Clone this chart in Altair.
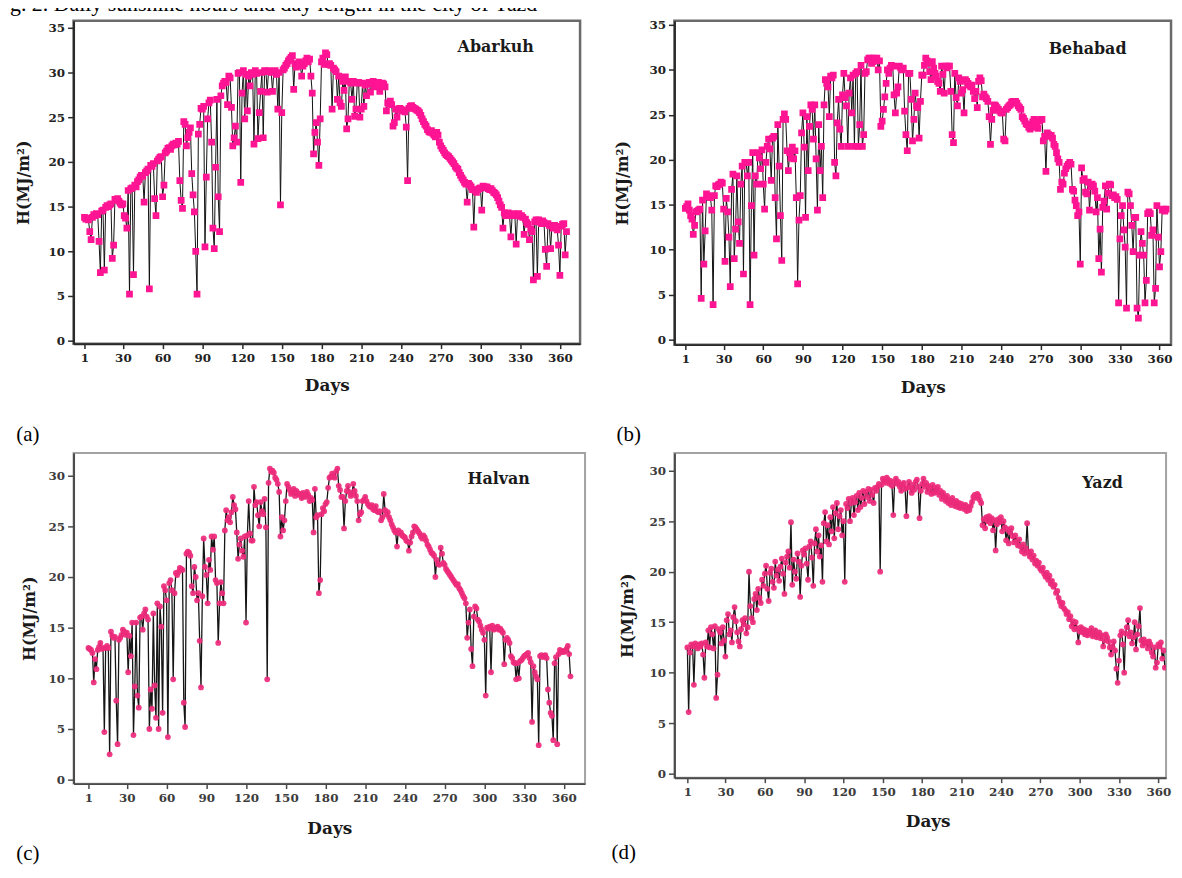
import altair as alt
import pandas as pd

DAYS = list(range(1, 366))

ABARKUH = [
    13.8, 13.6, 13.7, 13.5, 12.2, 11.3, 13.8, 14.1, 14.0, 14.2,
    14.1, 11.1, 7.6, 14.5, 14.6, 7.9, 14.9, 15.1, 15.0, 15.2,
    15.3, 9.2, 10.7, 15.8, 15.7, 15.9, 15.6, 15.4, 15.2, 15.3,
    14.0, 13.7, 12.6, 16.8, 5.2, 17.0, 17.1, 7.4, 17.4, 17.2,
    17.8, 18.0, 18.3, 18.5, 18.4, 15.5, 18.8, 19.0, 19.2, 5.8,
    19.6, 19.5, 19.8, 15.9, 14.0, 20.1, 20.3, 20.5, 20.6, 16.1,
    17.4, 21.0, 21.2, 21.5, 21.6, 21.4, 21.8, 22.0, 21.9, 22.1,
    22.0, 22.3, 17.9, 15.7, 14.8, 24.5, 24.2, 21.8, 22.7, 23.3,
    23.8, 18.7, 16.3, 14.4, 10.0, 5.2, 23.1, 24.2, 26.0, 25.9,
    26.2, 10.5, 18.3, 24.8, 26.6, 26.9, 22.2, 12.6, 10.3, 19.4,
    27.0, 16.1, 12.2, 27.4, 28.5, 28.8, 29.0, 28.9, 26.4, 29.6,
    29.4, 26.1, 21.8, 22.7, 24.0, 22.2, 29.9, 30.0, 17.7, 27.7,
    30.2, 24.8, 29.8, 25.7, 29.6, 28.5, 30.0, 29.8, 22.0, 30.2,
    29.9, 22.6, 25.5, 27.9, 30.0, 22.7, 30.2, 30.1, 27.8, 30.2,
    30.1, 30.0, 27.9, 30.1, 30.2, 29.8, 25.9, 30.0, 15.2, 25.5,
    30.3, 30.5, 30.8, 31.0, 31.3, 31.5, 31.7, 31.9, 28.1, 31.0,
    30.6, 30.9, 31.2, 30.8, 29.6, 30.7, 31.0, 31.3, 31.6, 31.2,
    31.5, 29.6, 27.7, 20.9, 23.3, 24.4, 22.2, 19.6, 24.8, 31.2,
    31.6, 30.9, 32.2, 32.0, 30.9, 31.0, 30.8, 25.9, 30.5, 30.3,
    30.1, 27.0, 29.6, 26.6, 26.2, 29.0, 28.0, 29.5, 23.7, 24.8,
    29.0, 28.8, 27.0, 29.0, 25.1, 25.9, 28.8, 28.9, 25.0, 25.9,
    28.8, 26.2, 28.6, 27.4, 28.7, 28.9, 27.8, 28.8, 29.0, 28.4,
    28.6, 28.8, 28.9, 27.9, 28.6, 28.8, 28.7, 28.4, 25.7, 26.6,
    26.5, 26.8, 26.4, 24.0, 24.4, 25.9, 25.0, 25.8, 26.0, 25.9,
    25.7, 25.8, 25.6, 23.9, 17.9, 26.0, 26.2, 26.3, 26.1, 26.0,
    25.9, 25.8, 25.7, 25.5, 25.2, 24.8, 24.5, 24.2, 24.0, 23.6,
    23.4, 23.3, 23.5, 23.2, 23.0, 22.8, 23.3, 23.0, 22.2, 21.8,
    21.5, 21.3, 21.0, 20.8, 20.7, 20.6, 20.4, 20.2, 20.0, 19.8,
    19.5, 19.3, 19.2, 18.8, 18.5, 18.2, 18.0, 17.7, 17.5, 15.5,
    17.6, 17.4, 17.2, 16.9, 12.7, 16.8, 16.6, 16.9, 17.0, 17.1,
    14.6, 17.3, 17.2, 17.1, 17.2, 17.0, 16.9, 17.0, 16.8, 16.6,
    16.5, 16.3, 16.0, 15.6, 15.2, 14.9, 12.6, 14.3, 14.0, 14.2,
    14.3, 14.0, 11.6, 14.1, 14.2, 14.0, 10.8, 14.1, 14.2, 13.9,
    14.0, 13.8, 11.9, 13.6, 13.2, 13.0, 11.3, 12.5, 12.2, 6.8,
    13.3, 13.5, 7.2, 13.5, 13.3, 13.1, 13.4, 13.2, 10.2, 8.3,
    13.1, 12.9, 10.3, 12.8, 12.6, 12.9, 12.7, 12.4, 10.7, 7.3,
    12.8, 13.0, 13.1, 9.6, 12.2,
]

BEHABAD = [
    14.6, 14.8, 15.1, 14.4, 13.8, 13.4, 11.7, 12.7, 14.2, 14.3,
    14.4, 14.5, 4.6, 15.5, 8.4, 12.1, 16.2, 16.0, 15.9, 15.8,
    14.4, 3.9, 16.0, 17.1, 17.0, 17.2, 17.3, 17.5, 17.4, 14.5,
    8.7, 15.7, 14.2, 11.4, 5.9, 16.7, 18.4, 9.0, 12.3, 18.2,
    13.1, 10.7, 17.3, 19.3, 7.3, 19.7, 19.7, 18.2, 19.7, 3.9,
    14.9, 20.8, 9.4, 18.2, 17.3, 20.8, 20.2, 19.0, 21.1, 17.3,
    14.5, 19.7, 21.5, 22.3, 21.2, 17.7, 22.4, 22.6, 15.8, 11.2,
    23.9, 19.3, 13.8, 8.8, 24.5, 25.1, 24.5, 21.0, 18.8, 20.8,
    20.2, 21.4, 20.1, 21.0, 15.8, 6.2, 13.3, 16.0, 23.0, 25.2,
    21.4, 13.6, 24.8, 18.8, 23.7, 26.1, 25.6, 22.3, 26.1, 20.1,
    14.4, 23.9, 18.8, 21.5, 15.8, 26.1, 28.9, 28.5, 28.1, 24.8,
    29.3, 29.1, 29.4, 19.7, 18.2, 24.1, 26.7, 23.4, 21.5, 27.2,
    29.6, 26.9, 26.0, 21.5, 27.4, 29.1, 25.2, 29.4, 21.5, 29.6,
    29.8, 21.5, 23.9, 30.5, 21.5, 22.8, 29.6, 29.8, 31.1, 31.3,
    31.3, 30.7, 30.9, 31.3, 31.1, 31.3, 30.0, 31.0, 23.7, 24.3,
    25.6, 27.0, 28.5, 30.0, 29.6, 30.2, 30.5, 30.4, 27.2, 25.2,
    27.4, 28.1, 30.4, 30.2, 30.0, 30.2, 25.4, 22.8, 21.0, 29.6,
    29.6, 26.7, 22.1, 24.5, 27.4, 26.0, 25.8, 22.4, 26.5, 29.4,
    29.4, 30.5, 31.3, 31.0, 30.7, 29.8, 28.9, 30.9, 30.2, 29.6,
    29.3, 28.7, 28.5, 27.6, 30.4, 29.5, 27.4, 30.4, 30.2, 30.4,
    30.4, 27.6, 22.8, 21.9, 29.6, 26.9, 26.0, 29.1, 28.7, 27.4,
    27.8, 25.2, 28.9, 28.7, 28.5, 28.3, 28.1, 28.3, 27.6, 26.8,
    27.6, 25.8, 28.7, 29.1, 28.8, 27.0, 27.3, 27.0, 26.8, 26.5,
    24.8, 21.7, 24.5, 25.5, 26.1, 26.0, 25.8, 25.6, 25.4, 25.2,
    25.2, 22.3, 22.1, 25.6, 25.8, 26.0, 26.1, 26.4, 26.5, 26.3,
    26.5, 26.3, 26.0, 25.8, 25.6, 24.8, 24.6, 24.3, 24.0, 23.9,
    23.6, 23.4, 23.6, 24.2, 24.5, 24.1, 23.7, 23.5, 24.3, 24.5,
    24.5, 22.1, 22.6, 18.7, 23.0, 22.8, 22.6, 22.7, 22.4, 21.7,
    21.5, 20.8, 20.1, 19.7, 16.7, 17.5, 17.3, 18.5, 19.0, 19.3,
    19.5, 19.7, 19.5, 16.7, 16.5, 15.5, 14.9, 13.8, 14.2, 8.4,
    19.1, 17.7, 17.9, 16.4, 16.2, 17.5, 14.4, 17.0, 17.3, 17.1,
    16.5, 14.2, 15.8, 9.0, 12.3, 7.5, 14.7, 15.4, 17.1, 14.5,
    16.3, 17.3, 17.2, 16.0, 16.1, 15.8, 15.9, 15.6, 4.1, 11.2,
    13.8, 14.9, 12.2, 10.3, 3.5, 16.4, 16.2, 14.9, 12.7, 9.8,
    13.6, 13.6, 3.5, 2.4, 9.4, 12.0, 10.7, 9.4, 4.1, 6.6,
    14.0, 14.2, 14.0, 11.6, 12.2, 4.1, 5.7, 14.9, 11.4, 8.1,
    9.8, 14.4, 14.5, 14.3, 14.5,
]

HALVAN = [
    13.0, 12.9, 12.8, 12.5, 9.6, 11.9, 10.9, 12.8, 13.1, 13.5,
    12.9, 13.0, 4.7, 13.0, 13.2, 13.0, 2.5, 14.6, 14.2, 14.0,
    14.1, 7.8, 3.5, 13.8, 14.0, 14.3, 14.8, 14.6, 14.3, 14.5,
    10.6, 14.2, 12.2, 15.5, 4.4, 9.2, 15.5, 8.3, 7.1, 16.0,
    16.1, 14.8, 16.4, 16.8, 16.1, 15.8, 5.0, 8.9, 7.0, 16.4,
    9.3, 6.1, 17.4, 5.0, 17.1, 15.1, 6.6, 19.1, 18.7, 17.7,
    4.2, 19.4, 19.7, 18.7, 9.9, 18.4, 20.4, 20.2, 20.5, 20.9,
    20.8, 20.7, 7.6, 5.2, 22.3, 22.5, 22.4, 22.1, 19.1, 18.4,
    21.0, 20.0, 17.7, 18.4, 13.7, 9.1, 18.1, 23.8, 21.0, 20.2,
    17.4, 21.7, 20.7, 24.0, 22.7, 24.0, 19.7, 19.4, 13.5, 17.4,
    19.5, 18.4, 17.4, 24.6, 26.6, 25.6, 25.9, 25.4, 26.4, 27.9,
    27.1, 26.7, 24.4, 21.8, 23.2, 23.8, 22.6, 22.0, 24.0, 15.5,
    24.1, 27.5, 24.3, 23.6, 23.6, 28.9, 27.1, 27.4, 26.1, 25.0,
    27.4, 26.5, 26.2, 27.7, 24.9, 9.9, 29.3, 30.7, 30.4, 30.5,
    30.3, 29.8, 29.6, 29.2, 28.4, 24.0, 25.9, 24.6, 25.6, 27.5,
    29.2, 28.9, 28.6, 28.2, 28.4, 28.7, 28.0, 28.5, 28.3, 28.1,
    28.2, 27.8, 28.3, 28.0, 27.9, 28.4, 28.1, 27.5, 27.8, 27.6,
    24.4, 28.7, 25.9, 26.1, 18.4, 19.7, 26.2, 26.8, 26.5, 27.2,
    27.4, 28.8, 29.8, 29.9, 30.2, 29.9, 29.8, 30.4, 30.7, 29.0,
    28.6, 27.9, 27.9, 24.8, 27.5, 28.5, 29.0, 28.4, 28.0, 28.2,
    29.2, 28.5, 28.0, 27.5, 25.6, 26.2, 26.4, 27.5, 27.6, 27.9,
    27.5, 27.2, 27.0, 26.9, 27.1, 26.7, 26.6, 27.0, 26.5, 26.4,
    26.5, 25.6, 25.9, 28.2, 26.6, 26.2, 26.4, 25.9, 25.6, 25.2,
    24.9, 24.6, 24.4, 23.0, 24.6, 24.3, 24.4, 24.1, 24.0, 23.9,
    23.6, 23.5, 22.6, 23.4, 24.0, 24.4, 25.0, 24.9, 24.7, 24.5,
    24.3, 24.0, 23.8, 24.1, 23.9, 23.6, 23.2, 23.0, 22.7, 22.4,
    22.3, 22.1, 20.0, 21.7, 21.3, 21.2, 22.9, 22.3, 21.4, 21.2,
    20.8, 20.6, 20.4, 20.2, 20.0, 19.8, 19.6, 19.4, 19.2, 19.3,
    18.9, 18.7, 18.4, 18.1, 17.9, 17.4, 14.0, 15.5, 16.8, 12.9,
    11.2, 16.1, 17.1, 16.9, 15.8, 15.6, 15.2, 14.8, 14.5, 13.8,
    8.3, 15.0, 14.9, 15.1, 10.6, 15.2, 14.8, 14.9, 15.0, 15.1,
    14.8, 14.9, 14.7, 14.5, 11.4, 13.8, 14.0, 13.8, 13.5, 12.2,
    12.0, 11.6, 11.5, 9.9, 11.5, 10.0, 11.7, 11.8, 12.0, 12.2,
    12.3, 12.4, 12.5, 12.0, 11.6, 5.7, 11.2, 10.6, 10.2, 9.9,
    3.4, 12.2, 12.3, 12.1, 12.2, 12.3, 12.0, 8.9, 7.6, 6.6,
    6.3, 3.9, 11.5, 12.1, 3.5, 12.4, 12.8, 12.6, 12.7, 12.6,
    12.7, 12.9, 13.2, 12.4, 10.2,
]

YAZD = [
    12.5, 6.1, 12.0, 12.8, 12.6, 8.8, 12.9, 12.7, 12.4, 12.8,
    12.6, 12.9, 11.8, 9.5, 13.0, 12.6, 14.2, 12.5, 14.5, 13.8,
    12.4, 14.6, 7.5, 9.8, 14.3, 14.0, 12.9, 14.5, 13.2, 11.6,
    15.2, 15.8, 13.8, 14.2, 13.0, 15.5, 16.5, 15.1, 14.0, 13.1,
    12.6, 14.3, 15.2, 14.8, 15.4, 13.9, 14.5, 20.0, 16.6, 15.4,
    15.0, 17.3, 17.8, 16.2, 18.3, 17.4, 16.9, 19.2, 18.6, 19.8,
    20.6, 18.3, 17.1, 19.9, 20.3, 19.0, 18.4, 21.0, 19.6, 20.2,
    19.1, 20.5, 21.3, 19.8, 17.8, 20.9, 21.5, 22.0, 20.4, 24.9,
    18.7, 21.2, 20.0, 19.3, 21.8, 21.0, 17.5, 20.6, 22.1, 21.7,
    22.3, 20.8, 19.2, 22.5, 23.0, 21.4, 18.6, 22.8, 24.2, 22.0,
    23.6, 21.5, 22.6, 19.0, 24.8, 25.9, 23.0, 24.6, 22.7, 25.4,
    24.0, 26.4, 23.3, 25.8, 26.8, 24.2, 25.5, 26.1, 23.6, 25.0,
    19.0, 26.7, 26.3, 27.2, 25.0, 26.8, 27.3, 25.6, 26.9, 27.5,
    26.1, 27.8, 26.4, 27.3, 28.0, 26.7, 27.9, 27.4, 28.2, 27.0,
    28.1, 27.6, 26.8, 28.3, 28.0, 28.4, 28.7, 20.0, 28.6, 29.2,
    29.0, 28.8, 29.3, 29.1, 28.7, 29.0, 28.5, 25.6, 28.9, 29.2,
    28.7, 28.9, 28.4, 28.0, 28.6, 28.8, 28.2, 25.5, 28.4, 28.9,
    28.3, 27.8, 28.6, 28.1, 28.9, 29.1, 28.4, 25.3, 28.0, 28.7,
    29.2, 28.4, 28.8, 27.9, 28.5, 28.2, 27.7, 28.6, 27.8, 28.3,
    27.9, 28.4, 27.6, 28.0, 27.2, 27.8, 27.4, 27.0, 27.5, 26.8,
    27.1, 26.6, 27.3, 26.9, 26.5, 27.0, 26.4, 26.8, 26.3, 26.7,
    26.5, 26.2, 26.6, 26.0, 26.4, 26.1, 26.5, 26.9, 27.4, 27.6,
    27.3, 27.7, 27.5, 27.1, 26.8, 24.6, 25.2, 24.3, 25.4, 25.0,
    25.5, 24.8, 25.3, 24.1, 25.1, 22.1, 24.7, 25.2, 24.9, 25.4,
    24.0, 25.0, 24.4, 23.1, 24.2, 22.8, 23.9, 24.3, 23.5, 22.9,
    23.6, 23.0, 22.6, 23.2, 22.5, 22.0, 22.7, 21.8, 22.3, 24.8,
    21.9, 21.5, 22.0, 21.2, 21.6, 20.8, 21.1, 20.6, 20.9, 20.3,
    20.1, 20.4, 19.8, 19.5, 19.9, 19.2, 19.6, 18.8, 19.1, 18.5,
    18.7, 17.9, 18.1, 17.4, 17.0, 16.6, 16.9, 16.4, 16.2, 15.8,
    16.0, 15.3, 15.6, 14.6, 15.1, 14.3, 15.0, 14.4, 13.0, 14.1,
    14.5, 14.0, 14.3, 13.8, 14.2, 13.7, 14.1, 13.9, 14.4, 13.6,
    13.9, 14.2, 13.5, 13.8, 14.0, 13.4, 13.7, 12.6, 13.2, 13.8,
    13.5, 13.1, 12.5, 11.8, 12.6, 13.1, 12.2, 10.4, 9.0, 11.2,
    13.7, 14.1, 12.8, 10.0, 13.9, 14.5, 15.2, 13.6, 14.0, 12.9,
    13.5, 15.0, 12.3, 13.8, 14.6, 16.4, 13.2, 12.7, 13.3, 12.9,
    13.0, 12.4, 13.1, 12.8, 12.0, 11.6, 12.5, 10.5, 11.0, 12.8,
    12.6, 13.0, 11.4, 12.2, 10.5,
]

X_TICKS = [1, 30, 60, 90, 120, 150, 180, 210, 240, 270, 300, 330, 360]
Y_TICKS_TOP = [0, 5, 10, 15, 20, 25, 30, 35]
Y_TICKS_BOTTOM = [0, 5, 10, 15, 20, 25, 30]
STATIONS = ["Abarkuh", "Behabad", "Halvan", "Yazd"]
TAGS = ["(a)", "(b)", "(c)", "(d)"]
FIG_TITLE = "g. 2. Daily sunshine hours and day length in the city of Yazd"
X_TITLE = "Days"
Y_TITLE = "H(MJ/m\u00b2)"

SERIF = "DejaVu Serif"
TIMES = "Liberation Serif"

STYLE_TOP = dict(frame="#6a6a6a", frame_w=2.5, domain="#2a2a2a", label="#222222",
                 shape="square", color="#FF1493", size=46, opacity=1.0,
                 line="#111111", line_w=1.0)
STYLE_BOTTOM = dict(frame="#a3a3a3", frame_w=2.0, domain="#4a4a4a", label="#3c3c3c",
                    shape="circle", color="#EE2A7B", size=34, opacity=0.92,
                    line="#151515", line_w=1.3)


def one_row(v):
    return pd.DataFrame({"t": [v]})


def panel(values, station, tag, w, h, xdom, ydom, yticks, st, name_xy, tag_xy,
          xtitle_y, ytitle_x, xtitle_x=None, extras=()):
    df = pd.DataFrame({"day": DAYS, "H": values})
    xaxis = dict(values=X_TICKS, title=X_TITLE, grid=False, labelFlush=False,
                 labelFont=SERIF, labelFontWeight="bold", labelFontSize=12,
                 labelColor=st["label"], labelPadding=4,
                 domainColor=st["domain"], domainWidth=2,
                 tickColor=st["domain"], tickWidth=1.5, tickSize=5,
                 titleFont=SERIF, titleFontWeight="bold", titleFontSize=17,
                 titleColor="#1a1a1a", titleY=xtitle_y, titleBaseline="middle")
    if xtitle_x is not None:
        xaxis["titleX"] = xtitle_x
    yaxis = dict(values=yticks, title=Y_TITLE, grid=False,
                 labelFont=SERIF, labelFontWeight="bold", labelFontSize=12,
                 labelColor=st["label"], labelPadding=3,
                 domainColor=st["domain"], domainWidth=2,
                 tickColor=st["domain"], tickWidth=1.5, tickSize=6,
                 titleFont=SERIF, titleFontWeight="bold", titleFontSize=16,
                 titleColor="#1a1a1a", titleX=ytitle_x, titleBaseline="middle")
    x = alt.X("day:Q", scale=alt.Scale(domain=xdom, nice=False, zero=False),
              axis=alt.Axis(**xaxis))
    y = alt.Y("H:Q", scale=alt.Scale(domain=ydom, nice=False, zero=False),
              axis=alt.Axis(**yaxis))
    base = alt.Chart(df)
    line = base.mark_line(color=st["line"], strokeWidth=st["line_w"], clip=True).encode(x=x, y=y)
    pts = base.mark_point(shape=st["shape"], filled=True, size=st["size"],
                          color=st["color"], opacity=st["opacity"], clip=True).encode(
        x="day:Q", y="H:Q")
    name = alt.Chart(one_row(station)).mark_text(
        font=SERIF, fontWeight="bold", fontSize=16, color="#1a1a1a",
        align="center", baseline="middle").encode(
        x=alt.value(name_xy[0]), y=alt.value(name_xy[1]), text="t:N")
    lab = alt.Chart(one_row(tag)).mark_text(
        font=TIMES, fontSize=21, color="black", align="center", baseline="middle").encode(
        x=alt.value(tag_xy[0]), y=alt.value(tag_xy[1]), text="t:N")
    layers = [line, pts, name, lab] + list(extras)
    return alt.layer(*layers).properties(
        width=w, height=h,
        view=alt.ViewBackground(stroke=st["frame"], strokeWidth=st["frame_w"], fill="white"))


anchor = alt.Chart(one_row(0)).mark_rule(strokeOpacity=0, opacity=0).encode(
    x=alt.value(-64), x2=alt.value(-64), y=alt.value(-40), y2=alt.value(-40))
fig_title = alt.Chart(one_row(FIG_TITLE)).mark_text(
    font=TIMES, fontSize=22, color="black", align="left", baseline="alphabetic").encode(
    x=alt.value(-64), y=alt.value(-10), text="t:N")

pa = panel(ABARKUH, STATIONS[0], TAGS[0], 510, 325, [-7.25, 375.25], [-0.333, 35.778],
           Y_TICKS_TOP, STYLE_TOP, (425, 26), (-46, 417), 42, -50,
           extras=(anchor, fig_title))
pb = panel(BEHABAD, STATIONS[1], TAGS[1], 500, 326, [-7.27, 368.7], [-0.552, 35.44],
           Y_TICKS_TOP, STYLE_TOP, (416, 28), (-46, 417), 43, -52)
pc = panel(HALVAN, STATIONS[2], TAGS[2], 515, 333, [-10.25, 376.0], [-0.39, 32.25],
           Y_TICKS_BOTTOM, STYLE_BOTTOM, (428, 26), (-46, 404), 45, -44)
pd_ = panel(YAZD, STATIONS[3], TAGS[3], 495, 327, [-8.84, 365.9], [-0.39, 31.76],
            Y_TICKS_BOTTOM, STYLE_BOTTOM, (431, 30), (-51, 403), 44, -47, xtitle_x=255)

chart = alt.concat(pa, pb, pc, pd_, columns=2,
                   spacing={"row": 109, "column": 90},
                   bounds="flush", align="none").properties(
    padding={"left": 0, "top": -32, "right": 0, "bottom": -2},
    autosize=alt.AutoSizeParams(type="pad"),
    background="white",
)

chart.save("out.html", embed_options={"renderer": "svg", "actions": False})
